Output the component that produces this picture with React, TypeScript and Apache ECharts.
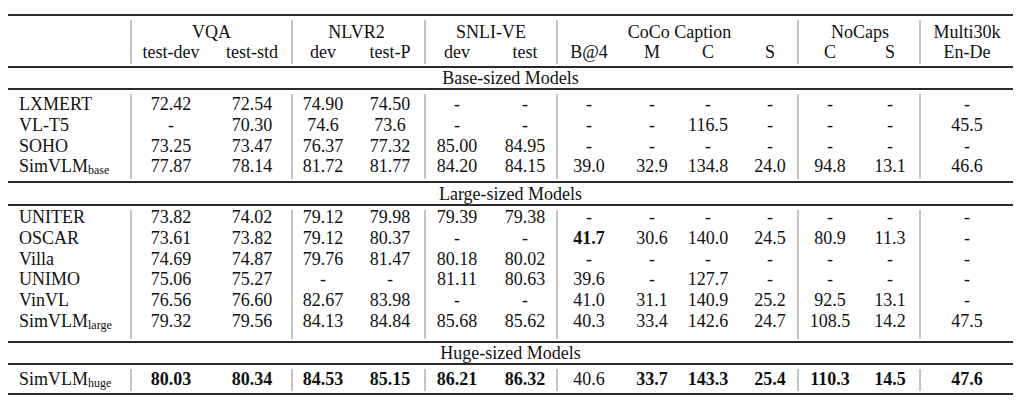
import React, { useEffect, useRef } from "react";
import * as echarts from "echarts";

// ---- data ----
const groupHeaders = ["VQA", "NLVR2", "SNLI-VE", "CoCo Caption", "NoCaps", "Multi30k"];
const groupSpans: [number, number][] = [[0, 1], [2, 3], [4, 5], [6, 9], [10, 11], [12, 12]];
const subHeaders = ["test-dev", "test-std", "dev", "test-P", "dev", "test", "B@4", "M", "C", "S", "C", "S", "En-De"];
const sectionTitles = ["Base-sized Models", "Large-sized Models", "Huge-sized Models"];

const baseModels = ["LXMERT", "VL-T5", "SOHO", "SimVLM"];
const baseSubs = ["", "", "", "base"];
const baseValues = [
  ["72.42", "72.54", "74.90", "74.50", "-", "-", "-", "-", "-", "-", "-", "-", "-"],
  ["-", "70.30", "74.6", "73.6", "-", "-", "-", "-", "116.5", "-", "-", "-", "45.5"],
  ["73.25", "73.47", "76.37", "77.32", "85.00", "84.95", "-", "-", "-", "-", "-", "-", "-"],
  ["77.87", "78.14", "81.72", "81.77", "84.20", "84.15", "39.0", "32.9", "134.8", "24.0", "94.8", "13.1", "46.6"],
];
const baseBold: number[][] = [[], [], [], []];

const largeModels = ["UNITER", "OSCAR", "Villa", "UNIMO", "VinVL", "SimVLM"];
const largeSubs = ["", "", "", "", "", "large"];
const largeValues = [
  ["73.82", "74.02", "79.12", "79.98", "79.39", "79.38", "-", "-", "-", "-", "-", "-", "-"],
  ["73.61", "73.82", "79.12", "80.37", "-", "-", "41.7", "30.6", "140.0", "24.5", "80.9", "11.3", "-"],
  ["74.69", "74.87", "79.76", "81.47", "80.18", "80.02", "-", "-", "-", "-", "-", "-", "-"],
  ["75.06", "75.27", "-", "-", "81.11", "80.63", "39.6", "-", "127.7", "-", "-", "-", "-"],
  ["76.56", "76.60", "82.67", "83.98", "-", "-", "41.0", "31.1", "140.9", "25.2", "92.5", "13.1", "-"],
  ["79.32", "79.56", "84.13", "84.84", "85.68", "85.62", "40.3", "33.4", "142.6", "24.7", "108.5", "14.2", "47.5"],
];
const largeBold: number[][] = [[], [6], [], [], [], []];

const hugeModels = ["SimVLM"];
const hugeSubs = ["huge"];
const hugeValues = [
  ["80.03", "80.34", "84.53", "85.15", "86.21", "86.32", "40.6", "33.7", "143.3", "25.4", "110.3", "14.5", "47.6"],
];
const hugeBold: number[][] = [[0, 1, 2, 3, 4, 5, 7, 8, 9, 10, 11, 12]];

// ---- layout ----
const FAMILY = "Liberation Serif";
const FS = 18;
const LEFT = 8;
const RIGHT = 1013;
const NAME_X = 19;
const colX = [171, 252, 323, 390, 457, 525, 589, 652, 708, 770, 830, 890, 967];
const sepX = [131, 292, 425, 557, 798, 920];
const hLines = [15, 67, 89, 182, 205, 342, 364, 394];
const HEAD1_Y = 32;
const HEAD2_Y = 52;
const sectionTitleY = [78, 193.5, 353];
const sectionFirstRowY = [104, 217, 379];
const ROW_H = 20.8;

function textEl(text: string, x: number, y: number, opts: any = {}) {
  const style: any = {
    text,
    fill: "#111",
    fontFamily: FAMILY,
    fontSize: FS,
    fontWeight: opts.bold ? "bold" : "normal",
    align: opts.align || "center",
    verticalAlign: "middle",
  };
  if (opts.rich) {
    style.lineHeight = 20;
    style.rich = {
      sub: { fontFamily: FAMILY, fontSize: 12, lineHeight: 10, verticalAlign: "bottom", fill: "#111" },
    };
  }
  return { type: "text", x, y, silent: true, style };
}

function lineEl(x1: number, y1: number, x2: number, y2: number, color: string, w: number) {
  return {
    type: "line",
    silent: true,
    shape: { x1, y1, x2, y2 },
    style: { stroke: color, lineWidth: w },
  };
}

function buildGraphics() {
  const els: any[] = [];
  hLines.forEach((y) => els.push(lineEl(LEFT, y, RIGHT, y, "#2a2a2a", 2)));
  const blocks: [number, number][] = [
    [hLines[0], hLines[1]],
    [hLines[2], hLines[3]],
    [hLines[4], hLines[5]],
    [hLines[6], hLines[7]],
  ];
  blocks.forEach(([a, b]) => {
    sepX.forEach((x) => els.push(lineEl(x, a + 5, x, b - 3, "#8a8a8a", 1)));
  });
  groupHeaders.forEach((g, i) => {
    const [s, e] = groupSpans[i];
    els.push(textEl(g, (colX[s] + colX[e]) / 2, HEAD1_Y));
  });
  subHeaders.forEach((h, i) => els.push(textEl(h, colX[i], HEAD2_Y)));
  sectionTitles.forEach((t, i) => els.push(textEl(t, (LEFT + RIGHT) / 2, sectionTitleY[i])));
  const sections = [
    { models: baseModels, subs: baseSubs, values: baseValues, bold: baseBold },
    { models: largeModels, subs: largeSubs, values: largeValues, bold: largeBold },
    { models: hugeModels, subs: hugeSubs, values: hugeValues, bold: hugeBold },
  ];
  sections.forEach((sec, si) => {
    sec.models.forEach((m, ri) => {
      const y = sectionFirstRowY[si] + ri * ROW_H;
      if (sec.subs[ri]) {
        els.push(textEl(`${m}{sub|${sec.subs[ri]}}`, NAME_X, y, { align: "left", rich: true }));
      } else {
        els.push(textEl(m, NAME_X, y, { align: "left" }));
      }
      sec.values[ri].forEach((v, ci) => {
        els.push(textEl(v, colX[ci], y, { bold: sec.bold[ri].includes(ci) }));
      });
    });
  });
  return els;
}

export default function App() {
  const ref = useRef<HTMLDivElement>(null);
  useEffect(() => {
    document.body.style.margin = "0";
    const chart = echarts.init(ref.current!, null, { renderer: "svg" });
    chart.setOption({
      animation: false,
      backgroundColor: "#fff",
      textStyle: { fontFamily: FAMILY },
      graphic: { elements: buildGraphics() },
    });
    return () => chart.dispose();
  }, []);
  return <div ref={ref} style={{ width: 1024, height: 407 }} />;
}
